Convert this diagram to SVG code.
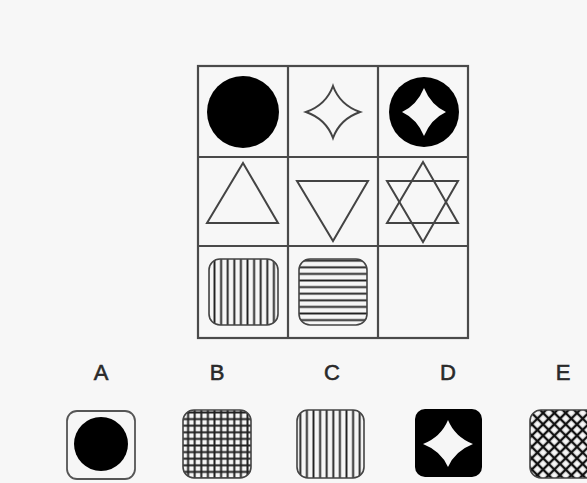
<svg xmlns="http://www.w3.org/2000/svg" width="587" height="483" viewBox="0 0 587 483">
<style>
.grid{fill:none;stroke:#4a4a4a;stroke-width:2.2}
.out{fill:none;stroke:#444;stroke-width:2;stroke-linejoin:miter}
.lbl{font-family:"Liberation Sans",Arial,sans-serif;font-size:22px;fill:#2a2a2a;stroke:#2a2a2a;stroke-width:0.6;text-anchor:middle}
.box{stroke:#444;stroke-width:1.6}
</style>
<defs>
<pattern id="vert" width="6.6" height="10" patternUnits="userSpaceOnUse">
<rect width="6.6" height="10" fill="#f6f6f6"/>
<line x1="3.3" y1="0" x2="3.3" y2="10" stroke="#222" stroke-width="1.9"/>
</pattern>
<pattern id="horiz" width="10" height="6.6" patternUnits="userSpaceOnUse">
<rect width="10" height="6.6" fill="#f6f6f6"/>
<line x1="0" y1="3.3" x2="10" y2="3.3" stroke="#222" stroke-width="1.9"/>
</pattern>
<pattern id="gridp" width="6.6" height="6.6" patternUnits="userSpaceOnUse">
<rect width="6.6" height="6.6" fill="#f6f6f6"/>
<line x1="3.3" y1="0" x2="3.3" y2="6.6" stroke="#222" stroke-width="2"/>
<line x1="0" y1="3.3" x2="6.6" y2="3.3" stroke="#222" stroke-width="2"/>
</pattern>
<pattern id="diag" width="8" height="8" patternUnits="userSpaceOnUse" patternTransform="rotate(45)">
<rect width="8" height="8" fill="#f6f6f6"/>
<line x1="4" y1="0" x2="4" y2="8" stroke="#111" stroke-width="2.4"/>
<line x1="0" y1="4" x2="8" y2="4" stroke="#111" stroke-width="2.4"/>
</pattern>
</defs>
<rect width="587" height="483" fill="#f7f7f7"/>

<g id="grid">
<rect class="grid" x="198" y="66" width="270" height="272"/>
<line class="grid" x1="288" y1="66" x2="288" y2="338"/>
<line class="grid" x1="378" y1="66" x2="378" y2="338"/>
<line class="grid" x1="198" y1="157" x2="468" y2="157"/>
<line class="grid" x1="198" y1="246" x2="468" y2="246"/>
</g>

<g id="cell-1-1"><circle cx="243" cy="112" r="36" fill="#000"/></g>
<g id="cell-1-2"><path class="out" d="M333,86 Q340,105 360,112 Q340,119 333,138 Q326,119 306,112 Q326,105 333,86 Z"/></g>
<g id="cell-1-3">
<circle cx="424" cy="112" r="35" fill="#000"/>
<path fill="#f6f6f6" d="M424,88 Q431,105 446,112 Q431,119 424,136 Q417,119 402,112 Q417,105 424,88 Z"/>
</g>

<g id="cell-2-1"><polygon class="out" points="243,163 278,223 207,223"/></g>
<g id="cell-2-2"><polygon class="out" points="297,181 368,181 333,241"/></g>
<g id="cell-2-3">
<polygon class="out" points="423,162 458,223 387,223"/>
<polygon class="out" points="387,181 458,181 423,242"/>
</g>

<g id="cell-3-1"><rect x="209" y="259" width="69" height="66" rx="11" fill="url(#vert)" class="box"/></g>
<g id="cell-3-2"><rect x="299" y="259" width="68" height="66" rx="11" fill="url(#horiz)" class="box"/></g>

<g id="labels">
<text class="lbl" x="101" y="380">A</text>
<text class="lbl" x="217" y="380">B</text>
<text class="lbl" x="332" y="380">C</text>
<text class="lbl" x="448" y="380">D</text>
<text class="lbl" x="563" y="380">E</text>
</g>

<g id="option-a">
<rect x="67" y="411" width="68" height="68" rx="10" fill="#f6f6f6" stroke="#555" stroke-width="1.8"/>
<circle cx="101" cy="444" r="27" fill="#000"/>
</g>
<g id="option-b"><rect x="183" y="410" width="68" height="68" rx="11" fill="url(#gridp)" class="box"/></g>
<g id="option-c"><rect x="297" y="410" width="67" height="68" rx="11" fill="url(#vert)" class="box"/></g>
<g id="option-d">
<rect x="415" y="409" width="67" height="68" rx="10" fill="#000"/>
<path fill="#f6f6f6" d="M448,420 Q455,437 473,444 Q455,451 448,467 Q441,451 423,444 Q441,437 448,420 Z"/>
</g>
<g id="option-e"><rect x="530" y="410" width="68" height="68" rx="11" fill="url(#diag)" class="box"/></g>
</svg>
